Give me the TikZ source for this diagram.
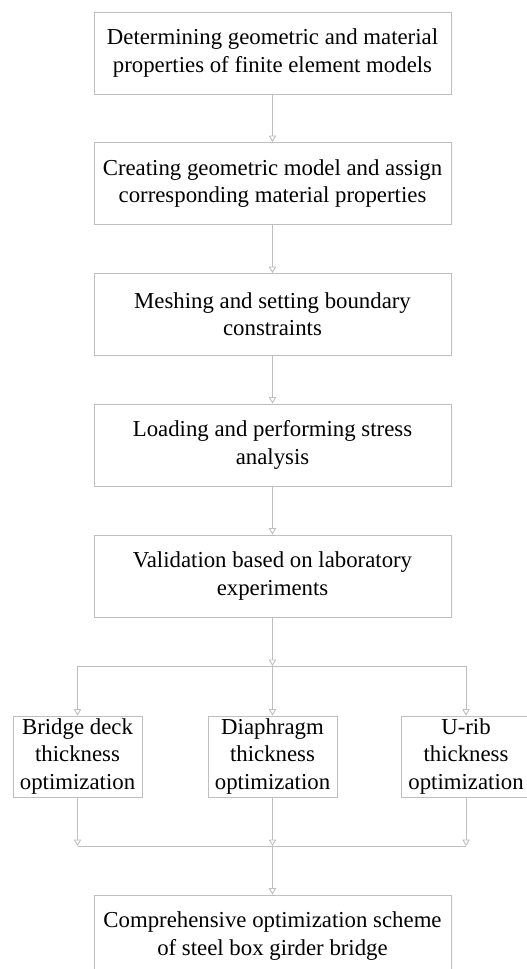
\documentclass[tikz,border=0pt]{standalone}
\usepackage{fontspec}
\setmainfont{Liberation Serif}
\usetikzlibrary{arrows.meta}
\tikzset{
    box/.style={draw=gray!50, line width=0.9pt, fill=white, align=center, inner sep=0pt,
        minimum width=357pt, minimum height=82pt, font=\fontsize{22.8}{27.3}\selectfont},
    smallbox/.style={box, minimum width=129pt, minimum height=81pt},
    flow/.style={draw=gray!50, line width=0.9pt, -{Triangle[open, length=6.5pt, width=7.5pt, fill=white]}},
    link/.style={draw=gray!50, line width=0.9pt}
}
\begin{document}
\begin{tikzpicture}[x=1pt, y=-1pt]
    \useasboundingbox (0,0) rectangle (527,969);

    \node[box] (props) at (272.5, 53) {Determining geometric and material\\properties of finite element models};
    \node[box] (model) at (272.5, 183.5) {Creating geometric model and assign\\corresponding material properties};
    \node[box] (mesh) at (272.5, 314.5) {Meshing and setting boundary\\constraints};
    \node[box] (load) at (272.5, 445) {Loading and performing stress\\analysis};
    \node[box] (valid) at (272.5, 576) {Validation based on laboratory\\experiments};

    \node[smallbox] (deck) at (77.5, 756.5) {Bridge deck\\thickness\\optimization};
    \node[smallbox] (diaph) at (272.5, 756.5) {Diaphragm\\thickness\\optimization};
    \node[smallbox] (urib) at (466, 756.5) {U-rib\\thickness\\optimization};

    \node[box] (scheme) at (272.5, 936) {Comprehensive optimization scheme\\of steel box girder bridge};

    \coordinate (split) at (272.5, 666);
    \coordinate (merge) at (272.5, 846);

    \draw[flow] (props) -- (model);
    \draw[flow] (model) -- (mesh);
    \draw[flow] (mesh) -- (load);
    \draw[flow] (load) -- (valid);
    \draw[flow] (valid) -- (split);

    \draw[flow] (split) -| (deck);
    \draw[flow] (split) -- (diaph);
    \draw[flow] (split) -| (urib);

    \draw[flow] (deck) -- (deck.south |- merge);
    \draw[flow] (diaph) -- (merge);
    \draw[flow] (urib) -- (urib.south |- merge);
    \draw[link] (deck.south |- merge) -- (urib.south |- merge);

    \draw[flow] (merge) -- (scheme);
  \end{tikzpicture}
\end{document}
